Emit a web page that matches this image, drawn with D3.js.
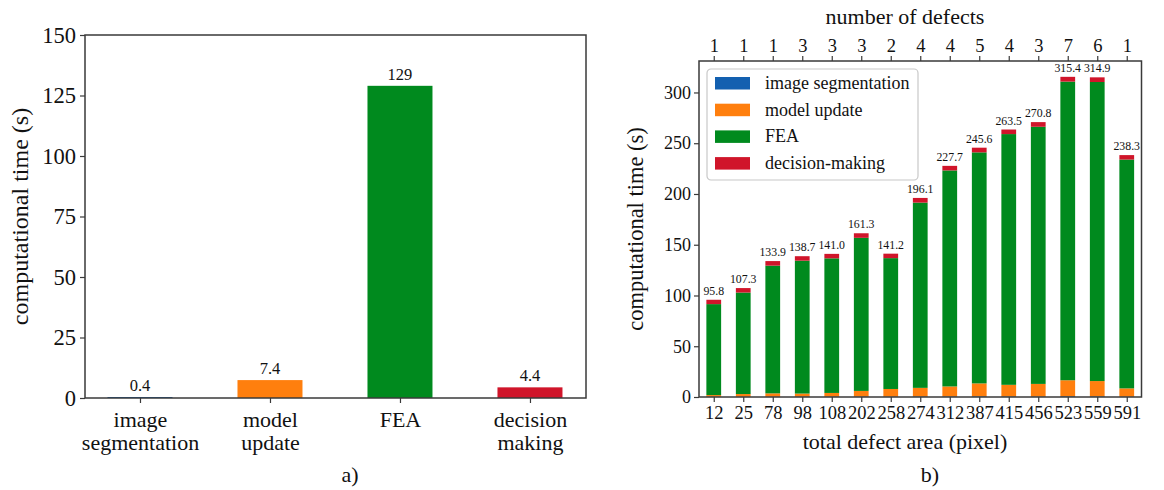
<!DOCTYPE html>
<html>
<head>
<meta charset="utf-8">
<script src="https://cdn.jsdelivr.net/npm/d3@7"></script>
<style>
  html, body { margin: 0; padding: 0; background: #fff; }
  svg { display: block; }
  svg text { font-family: "Liberation Serif", "DejaVu Serif", serif; }
</style>
</head>
<body>
<svg id="chart" width="1164" height="490"></svg>
<script>
// ---- panel a) average time per step ----
const stepLabels = [["image", "segmentation"], ["model", "update"], ["FEA"], ["decision", "making"]];
const stepTimes = [0.4, 7.4, 129, 4.4];
const stepValueText = ["0.4", "7.4", "129", "4.4"];

// ---- panel b) time per case, stacked ----
const defectArea = [12, 25, 78, 98, 108, 202, 258, 274, 312, 387, 415, 456, 523, 559, 591];
const defectCount = [1, 1, 1, 3, 3, 3, 2, 4, 4, 5, 4, 3, 7, 6, 1];
const totalTime = [95.8, 107.3, 133.9, 138.7, 141.0, 161.3, 141.2, 196.1, 227.7, 245.6, 263.5, 270.8, 315.4, 314.9, 238.3];
const segTime = [0.3, 0.3, 0.3, 0.4, 0.4, 0.4, 0.3, 0.5, 0.5, 0.6, 0.5, 0.4, 0.7, 0.6, 0.3];
const modelTime = [1.6, 2.6, 3.3, 3.0, 3.6, 5.6, 7.6, 8.5, 9.9, 12.8, 11.5, 12.5, 15.8, 15.1, 8.2];
const decisionTime = [4.3, 4.4, 4.5, 4.4, 4.4, 4.5, 4.4, 4.6, 4.5, 4.6, 4.5, 4.6, 4.7, 4.6, 4.4];
// FEA is whatever remains of the measured total
const feaTime = totalTime.map((t, i) => +(t - segTime[i] - modelTime[i] - decisionTime[i]).toFixed(1));

const seriesNames = ["image segmentation", "model update", "FEA", "decision-making"];
const seriesColors = ["#1360b0", "#ff7f0e", "#008a1e", "#d0152a"];
const axisColor = "#3a3a3a";
const serif = '"Liberation Serif", "DejaVu Serif", serif';

const svg = d3.select("#chart");

function styleAxis(g, size) {
  g.attr("font-family", serif).attr("font-size", size);
  g.selectAll(".domain").remove();
  g.selectAll(".tick line").attr("stroke", axisColor).attr("stroke-width", 1.2);
  g.selectAll(".tick text").attr("fill", "#111");
}

// ================= panel a =================
{
  const L = 85, R = 586, T = 35, B = 398;
  const x = d3.scaleLinear().domain([-0.423, 3.431]).range([L, R]);
  const y = d3.scaleLinear().domain([0, 150]).range([B, T]);
  const bw = x(0.5) - x(0);
  const g = svg.append("g");

  g.selectAll("rect.bar").data(stepTimes).join("rect")
    .attr("class", "bar")
    .attr("x", (d, i) => x(i) - bw / 2)
    .attr("width", bw)
    .attr("y", d => y(d))
    .attr("height", d => y(0) - y(d))
    .attr("fill", (d, i) => seriesColors[i]);

  g.selectAll("text.val").data(stepTimes).join("text")
    .attr("class", "val")
    .attr("x", (d, i) => x(i))
    .attr("y", d => y(d) - 6)
    .attr("text-anchor", "middle")
    .style("font-size", "16.5px")
    .attr("fill", "#111")
    .text((d, i) => stepValueText[i]);

  const ya = g.append("g").attr("transform", `translate(${L},0)`)
    .call(d3.axisLeft(y).tickValues([0, 25, 50, 75, 100, 125, 150]).tickSize(5).tickPadding(4));
  styleAxis(ya, 22.5);

  // category ticks carry two-line labels, so the default label is replaced
  const xa = g.append("g").attr("transform", `translate(0,${B})`)
    .call(d3.axisBottom(x).tickValues([0, 1, 2, 3]).tickSize(5));
  styleAxis(xa, 22);
  xa.selectAll(".tick text").remove();
  xa.selectAll(".tick").each(function (d) {
    const t = d3.select(this).append("text").attr("fill", "#111")
      .attr("text-anchor", "middle");
    stepLabels[d].forEach((line, k) => {
      t.append("tspan").attr("x", 0).attr("y", 29 + k * 22.5).text(line);
    });
  });

  g.append("rect").attr("x", L).attr("y", T).attr("width", R - L).attr("height", B - T)
    .attr("fill", "none").attr("stroke", axisColor).attr("stroke-width", 1.5);

  g.append("text").attr("transform", `translate(22,${(T + B) / 2}) rotate(-90)`)
    .attr("text-anchor", "middle").attr("dominant-baseline", "middle")
    .style("font-size", "24px").attr("fill", "#111").text("computational time (s)");

  g.append("text").attr("x", 350).attr("y", 482).attr("text-anchor", "middle")
    .style("font-size", "22px").attr("fill", "#111").text("a)");
}

// ================= panel b =================
{
  const L = 699, R = 1141.5, T = 61, B = 397;
  const titleX = 905;
  const x = d3.scaleLinear().domain([-0.5, 14.5]).range([L, R]);
  const y = d3.scaleLinear().domain([0, 331]).range([B, T]);
  const bw = x(0.5) - x(0);
  const g = svg.append("g");

  const rows = defectArea.map((a, i) => ({
    i, seg: segTime[i], model: modelTime[i], fea: feaTime[i], dec: decisionTime[i]
  }));
  const stacked = d3.stack().keys(["seg", "model", "fea", "dec"])(rows);

  g.selectAll("g.layer").data(stacked).join("g")
    .attr("class", "layer")
    .attr("fill", (d, k) => seriesColors[k])
    .selectAll("rect").data(d => d).join("rect")
    .attr("x", d => x(d.data.i) - bw / 2)
    .attr("width", bw)
    .attr("y", d => y(d[1]))
    .attr("height", d => y(d[0]) - y(d[1]));

  g.selectAll("text.val").data(totalTime).join("text")
    .attr("class", "val")
    .attr("x", (d, i) => x(i))
    .attr("y", d => y(d) - 5)
    .attr("text-anchor", "middle")
    .style("font-size", "11.8px")
    .attr("fill", "#111")
    .text(d => d.toFixed(1));

  const ya = g.append("g").attr("transform", `translate(${L},0)`)
    .call(d3.axisLeft(y).tickValues([0, 50, 100, 150, 200, 250, 300]).tickSize(5).tickPadding(3));
  styleAxis(ya, 18);

  const xa = g.append("g").attr("transform", `translate(0,${B})`)
    .call(d3.axisBottom(x).tickValues(d3.range(defectArea.length)).tickSize(5).tickPadding(4)
      .tickFormat(i => defectArea[i]));
  styleAxis(xa, 18.5);

  const xt = g.append("g").attr("transform", `translate(0,${T})`)
    .call(d3.axisTop(x).tickValues(d3.range(defectCount.length)).tickSize(5).tickPadding(4)
      .tickFormat(i => defectCount[i]));
  styleAxis(xt, 18.5);

  g.append("rect").attr("x", L).attr("y", T).attr("width", R - L).attr("height", B - T)
    .attr("fill", "none").attr("stroke", axisColor).attr("stroke-width", 1.5);

  // legend
  const lg = g.append("g").attr("transform", "translate(707,69)");
  lg.append("rect").attr("width", 211).attr("height", 111).attr("rx", 4)
    .attr("fill", "#fff").attr("fill-opacity", 0.85).attr("stroke", "#c8c8c8").attr("stroke-width", 1.2);
  seriesNames.forEach((name, k) => {
    const yy = 14 + k * 26.7;
    lg.append("rect").attr("x", 8).attr("y", yy - 6).attr("width", 35).attr("height", 12.5)
      .attr("fill", seriesColors[k]);
    lg.append("text").attr("x", 58).attr("y", yy).attr("dominant-baseline", "central")
      .style("font-size", "18px").attr("fill", "#111").text(name);
  });

  g.append("text").attr("transform", `translate(638,${(T + B) / 2}) rotate(-90)`)
    .attr("text-anchor", "middle").attr("dominant-baseline", "middle")
    .style("font-size", "22.5px").attr("fill", "#111").text("computational time (s)");

  g.append("text").attr("x", titleX).attr("y", 449).attr("text-anchor", "middle")
    .style("font-size", "22px").attr("fill", "#111").text("total defect area (pixel)");

  g.append("text").attr("x", titleX).attr("y", 24).attr("text-anchor", "middle")
    .style("font-size", "22px").attr("fill", "#111").text("number of defects");

  g.append("text").attr("x", 930).attr("y", 482).attr("text-anchor", "middle")
    .style("font-size", "22px").attr("fill", "#111").text("b)");
}
</script>
</body>
</html>
